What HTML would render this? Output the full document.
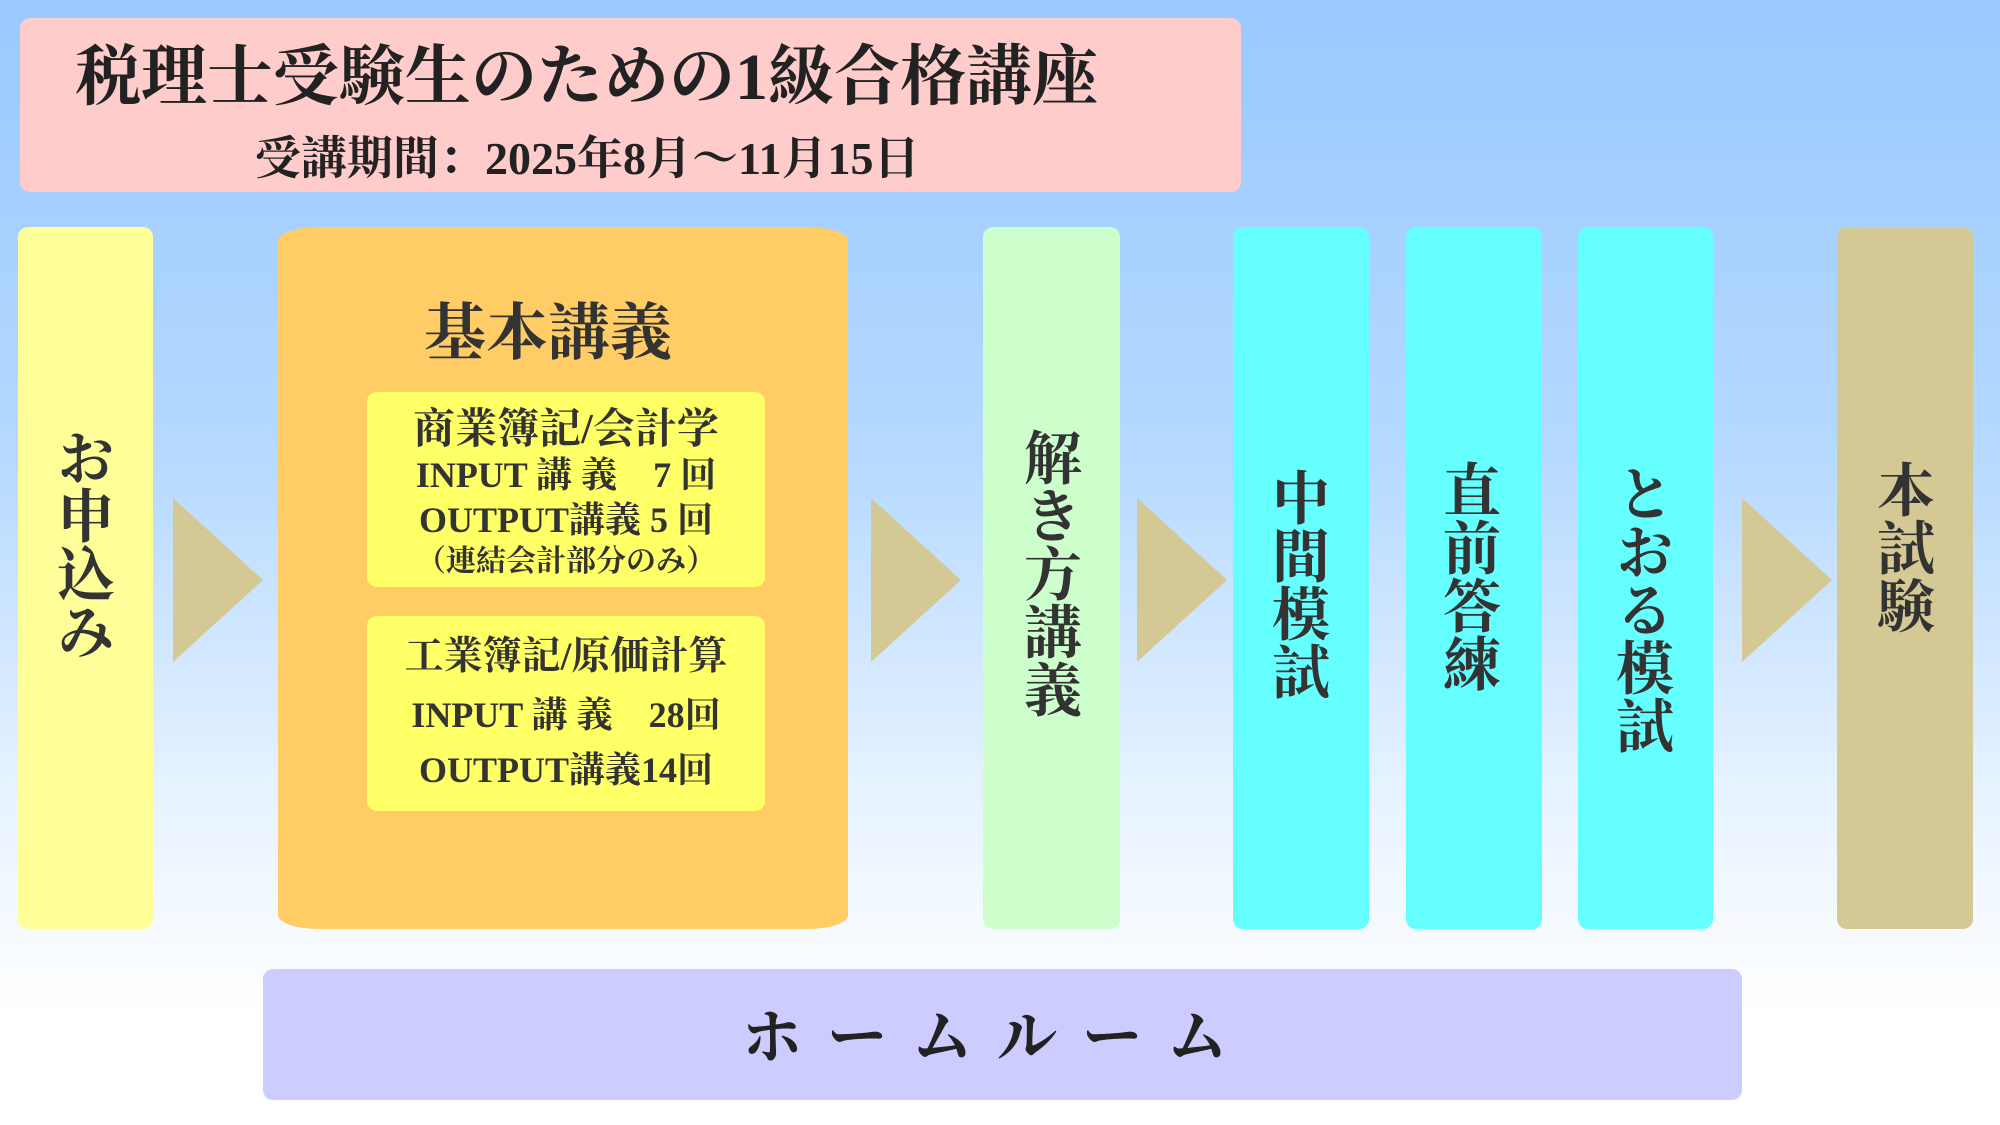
<!DOCTYPE html>
<html><head><meta charset="utf-8"><style>
html,body{margin:0;padding:0}
body{width:2000px;height:1125px;position:relative;overflow:hidden;background:linear-gradient(to bottom,#99c9ff 0%,#b5d9ff 40%,#e6f2ff 70%,#ffffff 90%,#ffffff 100%);font-family:"Liberation Serif","Noto Serif CJK SC",serif;color:#333}
.a{position:absolute}
.box{position:absolute;border-radius:10px}
.v{position:absolute;writing-mode:vertical-rl;font-size:58px;line-height:1;font-weight:bold;color:#333;transform:translateX(-50%)}
.tri{position:absolute;width:0;height:0;border-top:82px solid transparent;border-bottom:82px solid transparent;border-left:90px solid #d4c994}
.c{position:absolute;text-align:center;white-space:nowrap;left:0;right:0}
</style></head><body>
<div class="box" style="left:20px;top:18px;width:1221px;height:174px;background:#ffcccc"></div>
<div class="a" style="left:75px;top:23px;font-size:66px;font-weight:bold;color:#222;white-space:nowrap">税理士受験生のための1級合格講座</div>
<div class="a" style="left:255px;top:122px;font-size:46px;font-weight:bold;color:#222;white-space:nowrap">受講期間：2025年8月～11月15日</div>

<div class="box" style="left:18px;top:227px;width:135px;height:702px;background:#ffff99"></div>
<div class="v" style="left:80px;top:428px">お申込み</div>

<div class="tri" style="left:173px;top:498px"></div>

<div class="a" style="left:278px;top:227px;width:570px;height:702px;background:#ffcc66;border-radius:40px/14px"></div>
<div class="a" style="left:278px;top:283px;width:540px;text-align:center;font-size:62px;font-weight:bold;color:#333">基本講義</div>
<div class="box" style="left:367px;top:392px;width:398px;height:195px;background:#ffff66">
  <div class="c" style="top:4px;font-size:42px;font-weight:bold">商業簿記/会計学</div>
  <div class="c" style="top:55px;font-size:36px;font-weight:bold">INPUT 講 義　7 回</div>
  <div class="c" style="top:100px;font-size:36px;font-weight:bold">OUTPUT講義 5 回</div>
  <div class="c" style="top:144px;font-size:30px;font-weight:bold">（連結会計部分のみ）</div>
</div>
<div class="box" style="left:367px;top:616px;width:398px;height:195px;background:#ffff66">
  <div class="c" style="top:9px;font-size:39px;font-weight:bold">工業簿記/原価計算</div>
  <div class="c" style="top:71px;font-size:36px;font-weight:bold">INPUT 講 義　28回</div>
  <div class="c" style="top:126px;font-size:36px;font-weight:bold">OUTPUT講義14回</div>
</div>

<div class="tri" style="left:871px;top:498px"></div>

<div class="box" style="left:983px;top:227px;width:137px;height:702px;background:#ccffcc"></div>
<div class="v" style="left:1047px;top:428px">解き方講義</div>

<div class="tri" style="left:1137px;top:498px"></div>

<div class="box" style="left:1233px;top:227px;width:136px;height:702px;background:#66ffff"></div>
<div class="v" style="left:1295px;top:468px">中間模試</div>
<div class="box" style="left:1406px;top:227px;width:136px;height:702px;background:#66ffff"></div>
<div class="v" style="left:1466px;top:460px">直前答練</div>
<div class="box" style="left:1578px;top:227px;width:135px;height:702px;background:#66ffff"></div>
<div class="v" style="left:1639px;top:464px">とおる模試</div>

<div class="tri" style="left:1742px;top:498px"></div>

<div class="box" style="left:1837px;top:227px;width:136px;height:702px;background:#d4c994"></div>
<div class="v" style="left:1900px;top:460px">本試験</div>

<div class="box" style="left:263px;top:969px;width:1479px;height:131px;background:#ccccff"></div>
<div class="a" style="left:245px;top:990px;width:1479px;text-align:center;font-size:60px;font-weight:bold;letter-spacing:25px;color:#222;white-space:nowrap;text-indent:25px">ホームルーム</div>
</body></html>
